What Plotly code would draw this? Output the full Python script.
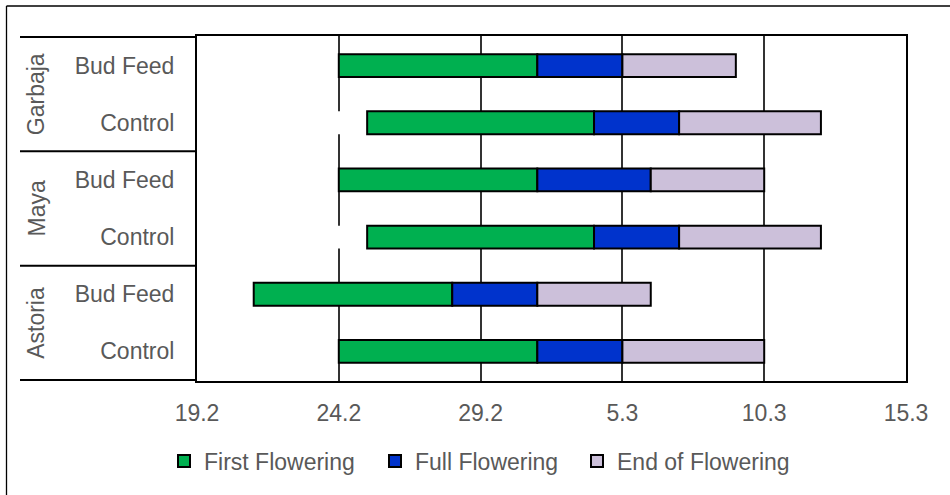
import pandas as pd
import plotly.graph_objects as go

# ---- data ----
varieties = ["Garbaja", "Garbaja", "Maya", "Maya", "Astoria", "Astoria"]
treatments = ["Bud Feed", "Control", "Bud Feed", "Control", "Bud Feed", "Control"]
first_flowering = ["2020-02-24", "2020-02-25", "2020-02-24", "2020-02-25", "2020-02-21", "2020-02-24"]
full_flowering = ["2020-03-02", "2020-03-04", "2020-03-02", "2020-03-04", "2020-02-28", "2020-03-02"]
end_flowering_start = ["2020-03-05", "2020-03-07", "2020-03-06", "2020-03-07", "2020-03-02", "2020-03-05"]
end_of_flowering = ["2020-03-09", "2020-03-12", "2020-03-10", "2020-03-12", "2020-03-06", "2020-03-10"]
axis_start = "2020-02-19"
axis_end = "2020-03-15"
series_names = ["First Flowering", "Full Flowering", "End of Flowering"]
series_colors = ["#00B050", "#0033CC", "#CCC0DA"]

# ---- derived ----
cats = [f"{v} | {t}" for v, t in zip(varieties, treatments)]
d_start = pd.to_datetime(pd.Series([axis_start] * len(cats)))
d1 = pd.to_datetime(pd.Series(first_flowering))
d2 = pd.to_datetime(pd.Series(full_flowering))
d3 = pd.to_datetime(pd.Series(end_flowering_start))
d4 = pd.to_datetime(pd.Series(end_of_flowering))


def ms(a, b):
    return ((b - a).dt.total_seconds() * 1000).tolist()


FONT = "Liberation Sans, Arial, sans-serif"
TXT = "#595959"
FS = 23

fig = go.Figure()
# white spacer (covers gridlines like the original)
fig.add_trace(go.Bar(
    y=cats, x=ms(d_start, d1), base=[axis_start] * len(cats), orientation="h",
    marker=dict(color="white", line=dict(width=0)), showlegend=False, hoverinfo="skip"))

segments = [(d1, d2, first_flowering), (d2, d3, full_flowering), (d3, d4, end_flowering_start)]
legend_widths = [166, 157, 180]
for (a, b, base), name, col, lw in zip(segments, series_names, series_colors, legend_widths):
    fig.add_trace(go.Bar(
        y=cats, x=ms(a, b), base=base, orientation="h", name=name,
        marker=dict(color=col, line=dict(color="black", width=2)),
        legendwidth=lw))

# group separators and labels
shapes = []
left_x = (20 - 197) / 709
for yb in [-0.5, 1.5, 3.5, 5.5]:
    shapes.append(dict(type="line", xref="paper", yref="y", x0=left_x, x1=0, y0=yb, y1=yb,
                       line=dict(color="black", width=2)))
# outer frame (left and top edges)
fx = (6.5 - 197) / 709
fy = (381 - 6) / 345
shapes.append(dict(type="line", xref="paper", yref="paper", x0=fx, x1=fx, y0=fy, y1=-0.6,
                   line=dict(color="black", width=1.3)))
shapes.append(dict(type="line", xref="paper", yref="paper", x0=fx, x1=1.3, y0=fy, y1=fy,
                   line=dict(color="black", width=1.3)))

annotations = []
groups = []
for i, v in enumerate(varieties):
    if v not in [g for g, _ in groups]:
        groups.append((v, i))
for v, i in groups:
    n = varieties.count(v)
    annotations.append(dict(text=v, xref="paper", yref="y", x=(36 - 197) / 709,
                            y=i + (n - 1) / 2, textangle=-90, showarrow=False,
                            xanchor="center", yanchor="middle",
                            font=dict(family=FONT, size=FS, color=TXT)))

fig.update_layout(
    width=950, height=495,
    margin=dict(l=197, r=44, t=36, b=114),
    paper_bgcolor="white", plot_bgcolor="white",
    barmode="overlay", bargap=0.6,
    font=dict(family=FONT, size=FS, color=TXT),
    shapes=shapes, annotations=annotations,
    legend=dict(orientation="h", x=(164 - 197) / 709, xanchor="left",
                y=(381 - 461) / 345, yanchor="middle",
                font=dict(family=FONT, size=FS, color=TXT),
                itemclick=False, traceorder="normal", bgcolor="rgba(0,0,0,0)"),
    xaxis=dict(type="date", range=[axis_start, axis_end], tick0=axis_start,
               dtick=5 * 24 * 3600 * 1000, tickformat="%-d.%-m",
               showgrid=True, gridcolor="#333333", gridwidth=1.5,
               showline=True, linecolor="black", linewidth=2, mirror=True,
               ticks="", ticklabelstandoff=10, zeroline=False,
               tickfont=dict(family=FONT, size=FS, color=TXT)),
    yaxis=dict(type="category", categoryorder="array", categoryarray=cats,
               autorange="reversed", tickmode="array", tickvals=cats, ticktext=treatments,
               showgrid=False, showline=True, linecolor="black", linewidth=2, mirror=True,
               ticks="", ticklabelstandoff=16,
               tickfont=dict(family=FONT, size=FS, color=TXT)),
)

fig.write_html("out.html", config={"displayModeBar": False},
               post_script="document.body.style.margin='0';")
